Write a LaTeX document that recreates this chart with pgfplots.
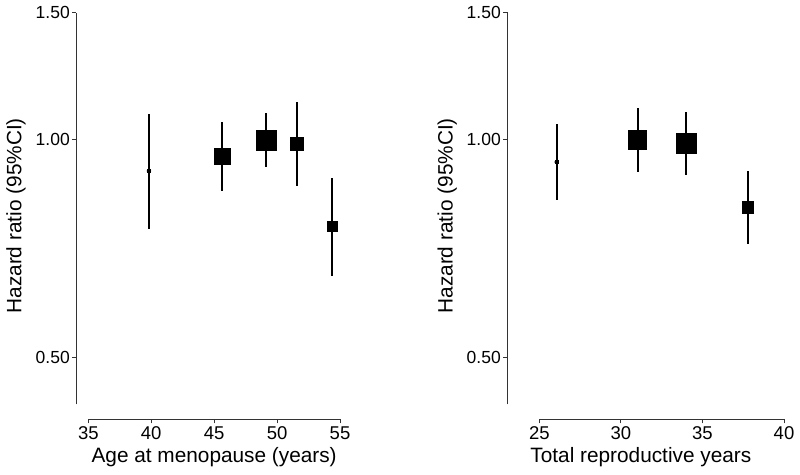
\documentclass[border=0pt]{standalone}
\usepackage{fontspec}
\setmainfont{Liberation Sans}
\usepackage{pgfplots}
\pgfplotsset{compat=1.18}
\usepackage{pgfplotstable}

\pgfplotstableread{
x y lo hi s
39.82 0.905 0.753 1.085 1.6
45.65 0.9475 0.848 1.059 8
49.14 0.998 0.916 1.087 10
51.56 0.987 0.862 1.127 6.4
54.39 0.757 0.648 0.885 5
}\leftdata

\pgfplotstableread{
x y lo hi s
26.07 0.931 0.824 1.051 1.6
31.03 0.998 0.901 1.106 9.3
34.01 0.988 0.894 1.091 10
37.80 0.805 0.717 0.905 5.7
}\rightdata

\newcommand{\labfont}{\fontsize{20.8}{24}\selectfont}

\pgfplotsset{
 hrstyle/.style={
  scale only axis, anchor=south west,
  height=391.8pt,
  ymin=0.43, ymax=1.5,
  ytick={0.5,1,1.5}, yticklabels={0.50,1.00,1.50},
  yminorticks=false, xminorticks=false,
  axis x line=bottom, axis y line=left,
  axis line style={-, line width=1pt, black!80},
  axis x line shift=14.7pt,
  tick align=outside, major tick length=4.5pt,
  every tick/.style={line width=1pt, black!80},
  yticklabel style={font=\fontsize{17.5}{20}\selectfont, inner sep=2pt},
  xticklabel style={font=\fontsize{18.5}{20}\selectfont, inner sep=3pt},
  clip=false,
 },
}

\begin{document}
\begin{tikzpicture}
\path[use as bounding box] (0,0) rectangle (800pt,474pt);
\begin{axis}[hrstyle, ymode=log,
  at={(88.3pt,69.7pt)}, width=251.7pt,
  xmin=35, xmax=55, xtick={35,40,45,50,55}, xticklabels={35,40,45,50,55},
  axis y line shift=11.8pt,
  every axis x label/.style={at={(axis description cs:0.5,0)}, anchor=base, yshift=-57.7pt, font=\labfont},
  every axis y label/.style={at={(axis description cs:-0.2654,0.481)}, rotate=90, anchor=base, font=\labfont},
  xlabel={Age at menopause (years)}, ylabel={Hazard ratio (95\%CI)}]
\addplot[black, only marks, mark=none,
  error bars/y dir=both, error bars/y explicit, error bars/error mark=none,
  error bars/error bar style={line width=1.8pt, black}]
  table[x=x, y=y, y error plus expr=\thisrow{hi}-\thisrow{y}, y error minus expr=\thisrow{y}-\thisrow{lo}] {\leftdata};
\addplot[only marks, mark=square*, scatter,
  scatter/use mapped color={draw=black,fill=black},
  mark options={line width=0pt},
  visualization depends on={\thisrow{s}\as\msize},
  scatter/@pre marker code/.append style={/tikz/mark size=\msize}]
  table[x=x, y=y] {\leftdata};
\end{axis}
\begin{axis}[hrstyle, ymode=log,
  at={(539.3pt,69.7pt)}, width=244.7pt,
  xmin=25, xmax=40, xtick={25,30,35,40}, xticklabels={25,30,35,40},
  axis y line shift=31.8pt,
  every axis x label/.style={at={(axis description cs:0.415,0)}, anchor=base, yshift=-57.7pt, font=\labfont},
  every axis y label/.style={at={(axis description cs:-0.3547,0.481)}, rotate=90, anchor=base, font=\labfont},
  xlabel={Total reproductive years}, ylabel={Hazard ratio (95\%CI)}]
\addplot[black, only marks, mark=none,
  error bars/y dir=both, error bars/y explicit, error bars/error mark=none,
  error bars/error bar style={line width=1.8pt, black}]
  table[x=x, y=y, y error plus expr=\thisrow{hi}-\thisrow{y}, y error minus expr=\thisrow{y}-\thisrow{lo}] {\rightdata};
\addplot[only marks, mark=square*, scatter,
  scatter/use mapped color={draw=black,fill=black},
  mark options={line width=0pt},
  visualization depends on={\thisrow{s}\as\msize},
  scatter/@pre marker code/.append style={/tikz/mark size=\msize}]
  table[x=x, y=y] {\rightdata};
\end{axis}
\end{tikzpicture}
\end{document}
